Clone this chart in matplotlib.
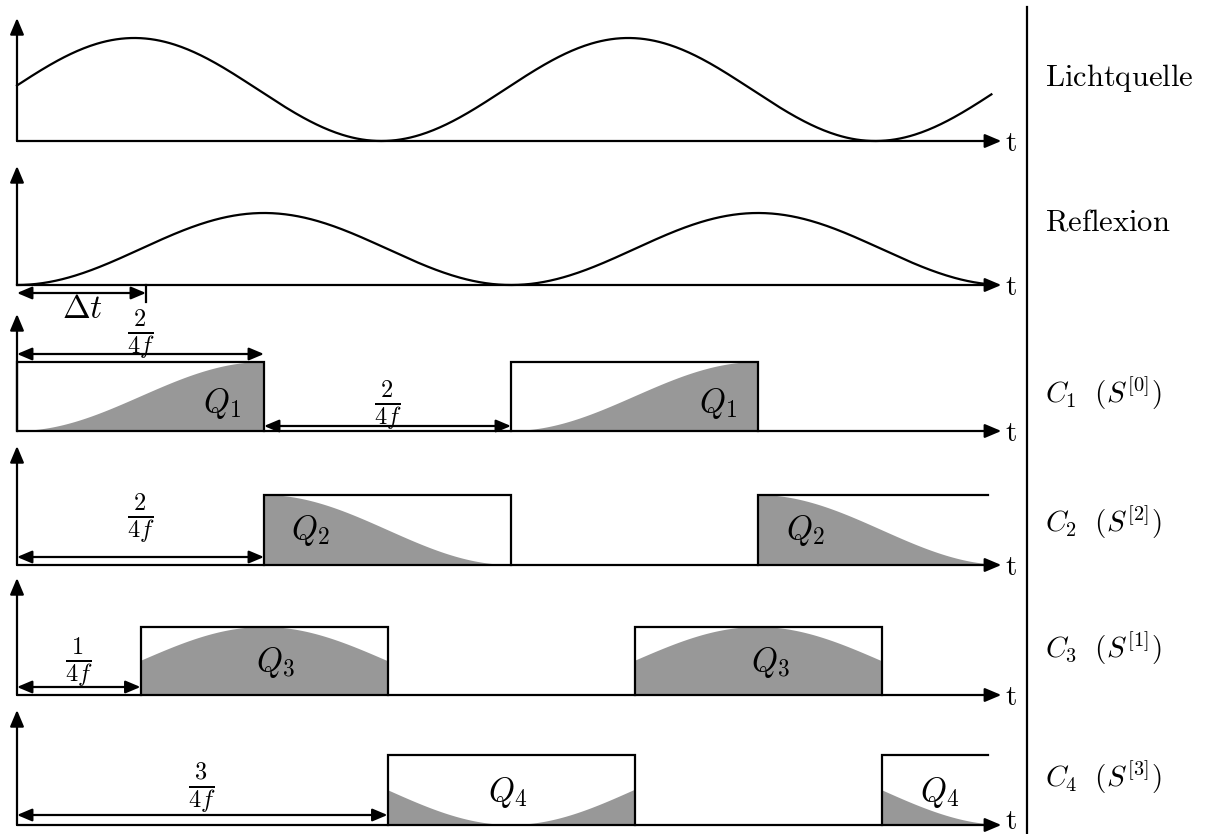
import numpy as np
import matplotlib
matplotlib.use("Agg")
import matplotlib.pyplot as plt
from matplotlib.patches import Polygon

plt.rcParams["mathtext.fontset"] = "cm"

# --- signal description (time measured in units of 1/(4f)) ---
period = 4.0            # one modulation period = 4 units
delay = 1.05            # reflection lags the light source by Δt
t_end_light = 7.89      # where the drawn light curve stops
t_end_refl = 7.84       # where the drawn reflection curve stops
t_axis_end = 7.97       # tip of every time axis

# integration windows for the four capacitors (start, stop, open_right)
windows_c1 = [(0.0, 2.0, False), (4.0, 6.0, False)]
windows_c2 = [(2.0, 4.0, False), (6.0, 7.86, True)]
windows_c3 = [(1.0, 3.0, False), (5.0, 7.0, False)]
windows_c4 = [(3.0, 5.0, False), (7.0, 7.86, True)]

row_labels = [r"$\mathrm{Lichtquelle}$", r"$\mathrm{Reflexion}$",
              r"$C_1\ \ (S^{[0]})$", r"$C_2\ \ (S^{[2]})$",
              r"$C_3\ \ (S^{[1]})$", r"$C_4\ \ (S^{[3]})$"]
q_labels = [r"$Q_1$", r"$Q_2$", r"$Q_3$", r"$Q_4$"]


def reflection(t):
    return 0.5 * (1.0 - np.cos(2 * np.pi * t / period))


def light(t):
    return reflection(t + delay)


# --- layout (vertical positions in pixels, horizontal in time units) ---
W, H = 1208, 834
px0, upx = 17.0, 123.5
baselines = [141, 285, 431, 565, 695, 825]
axis_tops = [18, 166, 314, 446, 578, 710]
curve_amp = [103, 72]
rect_h = [69, 70, 68, 70]
label_y = [78, 222, 393, 522, 648, 777]
label_size = [22, 22, 21, 21, 21, 21]
gray = "#989898"
lw = 1.6

fig = plt.figure(figsize=(W / 100, H / 100), dpi=100)
ax = fig.add_axes([0, 0, 1, 1])
ax.set_xlim(-px0 / upx, (W - px0) / upx)
ax.set_ylim(H, 0)
ax.axis("off")


def tx(px):
    return (px - px0) / upx


def arrow(x0, y0, x1, y1, style="-|>", ms=11):
    ax.annotate("", xy=(x1, y1), xytext=(x0, y0),
                arrowprops=dict(arrowstyle=style + ",head_length=0.9,head_width=0.38",
                                lw=lw, color="k", shrinkA=0, shrinkB=0,
                                mutation_scale=ms))


# axes of every row
for b, top in zip(baselines, axis_tops):
    arrow(0, b, 0, top)
    arrow(0, b, t_axis_end, b)
    ax.text(t_axis_end + 0.08, min(b + 2, H - 13), r"$\mathrm{t}$", fontsize=21,
            ha="center", va="center")

# light source and reflection
t = np.linspace(0, t_end_light, 600)
ax.plot(t, baselines[0] - curve_amp[0] * light(t), color="k", lw=lw)
t = np.linspace(0, t_end_refl, 600)
ax.plot(t, baselines[1] - curve_amp[1] * reflection(t), color="k", lw=lw)

# capacitor windows with the collected charge
all_windows = [windows_c1, windows_c2, windows_c3, windows_c4]
for k, wins in enumerate(all_windows):
    b = baselines[k + 2]
    h = rect_h[k]
    for (a, e, open_right) in wins:
        tt = np.linspace(a, min(e, t_end_refl), 300)
        yy = b - h * reflection(tt)
        poly = np.column_stack([np.r_[tt, tt[-1], tt[0]], np.r_[yy, b, b]])
        ax.add_patch(Polygon(poly, closed=True, facecolor=gray,
                             edgecolor="none", zorder=1))
        if open_right:
            ax.plot([a, a, e], [b, b - h, b - h], color="k", lw=lw, zorder=3,
                    solid_joinstyle="miter")
        else:
            ax.plot([a, a, e, e], [b, b - h, b - h, b], color="k", lw=lw,
                    zorder=3, solid_joinstyle="miter")

# charge labels
q_pos = [[(222, 403), (718, 403)], [(310, 530), (805, 530)],
         [(275, 662), (770, 662)], [(508, 792), (940, 792)]]
for lab, pos in zip(q_labels, q_pos):
    for (x, y) in pos:
        ax.text(tx(x), y, lab, fontsize=24, ha="center", va="center", zorder=4)

# Δt marker
arrow(0, 293, tx(146), 293, style="<|-|>", ms=10)
ax.plot([tx(146), tx(146)], [285, 302], color="k", lw=lw)
ax.text(tx(82), 308, r"$\Delta t$", fontsize=24, ha="center", va="center")

# dimension arrows with fractions
dims = [(0.0, 2.0, 354, r"$\frac{2}{4f}$", 334),
        (2.0, 4.0, 426, r"$\frac{2}{4f}$", 405),
        (0.0, 2.0, 557, r"$\frac{2}{4f}$", 518),
        (0.0, 1.0, 687, r"$\frac{1}{4f}$", 662),
        (0.0, 3.0, 815, r"$\frac{3}{4f}$", 788)]
for a, e, y, lab, ly in dims:
    arrow(a, y, e, y, style="<|-|>", ms=10)
    ax.text((a + e) / 2, ly, lab, fontsize=25, ha="center", va="center")

# separator and row names
ax.plot([tx(1027), tx(1027)], [7, H], color="k", lw=lw)
for lab, y, fs in zip(row_labels, label_y, label_size):
    ax.text(tx(1045), y, lab, fontsize=fs, ha="left", va="center")

fig.savefig("out.png", dpi=100)
